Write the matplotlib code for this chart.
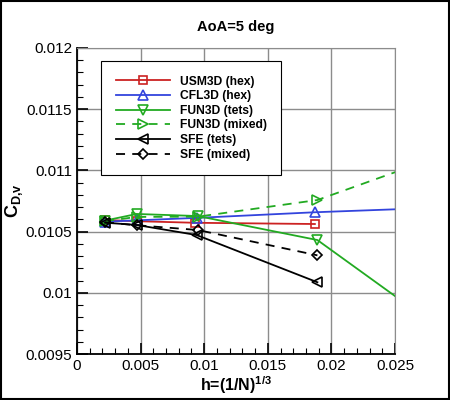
import numpy as np
import matplotlib
matplotlib.use('Agg')
import matplotlib.pyplot as plt
from matplotlib.patches import Rectangle
from matplotlib.ticker import MultipleLocator

plt.rcParams['font.family'] = ['Liberation Sans', 'DejaVu Sans']
plt.rcParams['mathtext.fontset'] = 'custom'
plt.rcParams['mathtext.bf'] = 'Liberation Sans:bold'
plt.rcParams['mathtext.rm'] = 'Liberation Sans'

# grid spacing h and drag values per code
usm3d_h = [0.0022, 0.0047, 0.0093, 0.0187]
usm3d_cd = [0.010595, 0.010585, 0.010572, 0.010562]

cfl3d_h = [0.0022, 0.0047, 0.0094, 0.0187, 0.0375]
cfl3d_cd = [0.010581, 0.010592, 0.010612, 0.010658, 0.010730]

fun3d_tets_h = [0.0022, 0.0047, 0.0095, 0.0189, 0.0375]
fun3d_tets_cd = [0.010590, 0.010644, 0.010627, 0.010431, 0.009036]

fun3d_mixed_h = [0.0022, 0.0047, 0.0095, 0.0189, 0.0375]
fun3d_mixed_cd = [0.010585, 0.010620, 0.010622, 0.010758, 0.011450]

sfe_tets_h = [0.0022, 0.0047, 0.0094, 0.0189]
sfe_tets_cd = [0.010573, 0.010554, 0.010472, 0.010086]

sfe_mixed_h = [0.0022, 0.0047, 0.0095, 0.0189]
sfe_mixed_cd = [0.010576, 0.010552, 0.010513, 0.010306]

fig = plt.figure(figsize=(4.5, 4.0), dpi=100)
ax = fig.add_axes([77 / 450, 1 - 354 / 400, 318 / 450, 306 / 400])

ms = 6
ax.plot(usm3d_h, usm3d_cd, color='#cc2222', lw=1.3, marker='s', ms=ms,
        mfc='none', mew=1.2, label='USM3D (hex)')
ax.plot(cfl3d_h, cfl3d_cd, color='#3344dd', lw=1.3, marker='^', ms=ms + 1,
        mfc='none', mew=1.2, label='CFL3D (hex)')
ax.plot(fun3d_tets_h, fun3d_tets_cd, color='#22aa22', lw=1.3, marker='v', ms=ms + 1,
        mfc='none', mew=1.2, label='FUN3D (tets)')
ax.plot(fun3d_mixed_h, fun3d_mixed_cd, color='#22aa22', lw=1.3, ls=(0, (5, 4)),
        marker='>', ms=ms + 1, mfc='none', mew=1.2, label='FUN3D (mixed)')
ax.plot(sfe_tets_h, sfe_tets_cd, color='black', lw=1.3, marker='<', ms=ms + 1,
        mfc='none', mew=1.2, label='SFE (tets)')
ax.plot(sfe_mixed_h, sfe_mixed_cd, color='black', lw=1.3, ls=(0, (5, 4)),
        marker='D', ms=ms - 0.5, mfc='none', mew=1.2, label='SFE (mixed)')

ax.set_xlim(0, 0.025)
ax.set_ylim(0.0095, 0.012)
ax.xaxis.set_minor_locator(MultipleLocator(0.001))
ax.yaxis.set_minor_locator(MultipleLocator(0.0001))
ax.set_xticks([0, 0.005, 0.01, 0.015, 0.02, 0.025])
ax.set_xticklabels(['0', '0.005', '0.01', '0.015', '0.02', '0.025'])
ax.set_yticks([0.0095, 0.01, 0.0105, 0.011, 0.0115, 0.012])
ax.set_yticklabels(['0.0095', '0.01', '0.0105', '0.011', '0.0115', '0.012'])

ax.grid(True, which='major', color='#8c8c8c', lw=1.0)
ax.tick_params(which='both', direction='in', labelsize=11, top=False, right=False)
ax.tick_params(which='major', length=8, width=1.2)
ax.tick_params(which='minor', length=4, width=0.8)
ax.spines['left'].set_linewidth(1.3)
ax.spines['bottom'].set_linewidth(1.3)
ax.spines['top'].set_color('#8c8c8c')
ax.spines['right'].set_color('#8c8c8c')

ax.set_title('AoA=5 deg', fontsize=10.5, fontweight='bold', pad=12)
ax.set_xlabel(r'h=(1/N)$^{\mathbf{1/3}}$', fontsize=11.5, fontweight='bold')
ax.xaxis.set_label_coords(0.5, -0.066)
ax.set_ylabel(r'C$_{\mathbf{D{,}v}}$', fontsize=13, fontweight='bold')
ax.yaxis.set_label_coords(-52 / 318, 0.5)

leg = ax.legend(loc='upper left', bbox_to_anchor=(0.0755, 0.9575), borderaxespad=0,
                prop={'weight': 'bold', 'size': 8.7}, frameon=True, fancybox=False,
                edgecolor='black', handlelength=4.5, borderpad=1.2,
                labelspacing=0.22, handletextpad=0.8, framealpha=1)
leg.get_frame().set_linewidth(0.8)

fig.patches.append(Rectangle((0.002, 0.002), 0.996, 0.996, transform=fig.transFigure,
                             fill=False, edgecolor='black', lw=1.5))

plt.savefig('out.png', dpi=100)
